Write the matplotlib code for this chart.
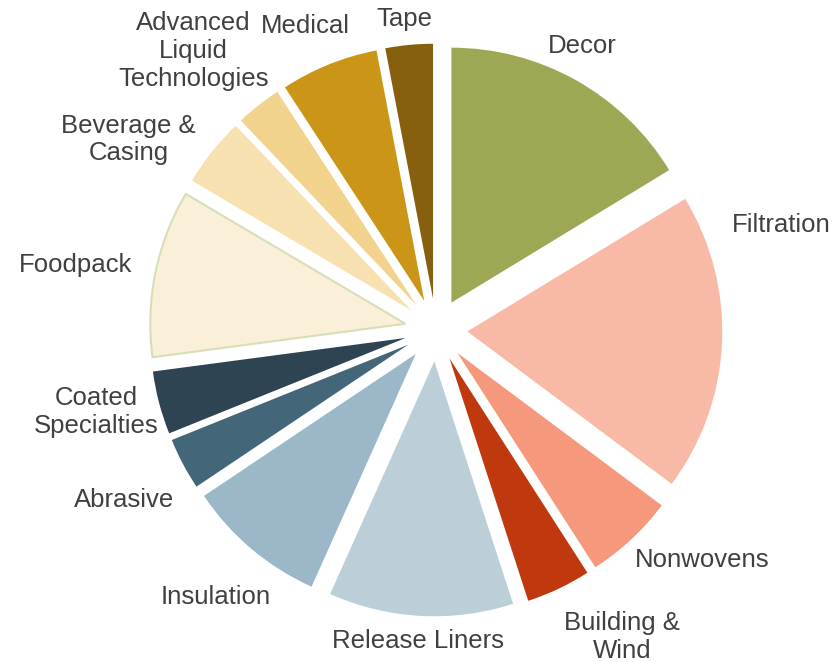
import numpy as np
import matplotlib.pyplot as plt

# ===============================
# Segment shares (clockwise from 12 o'clock)
# ===============================
segments = ["Decor", "Filtration", "Nonwovens", "Building &\nWind", "Release Liners",
            "Insulation", "Abrasive", "Coated\nSpecialties", "Foodpack",
            "Beverage &\nCasing", "Advanced\nLiquid\nTechnologies", "Medical", "Tape"]
shares = [16.3, 18.9, 5.7, 4.1, 11.7, 8.9, 3.3, 4.0, 10.6, 4.4, 2.9, 6.2, 3.0]

colors = ["#9EA854", "#F8B9A6", "#F6987C", "#C0380E", "#BCCFD8", "#9BB7C8", "#436779",
          "#2E4452", "#FAEFD8", "#F7E1B0", "#F2D38E", "#CB9518", "#86600F"]

# label centres (pie radius = 1, centre at origin)
label_xy = [(0.573, 1.114), (1.355, 0.412), (1.043, -0.902), (0.729, -1.204),
            (-0.071, -1.220), (-0.865, -1.047), (-1.222, -0.667), (-1.331, -0.322),
            (-1.414, 0.255), (-1.206, 0.747), (-0.952, 1.094), (-0.512, 1.192),
            (-0.124, 1.220)]

plt.rcParams['font.family'] = ['Liberation Sans', 'DejaVu Sans']

fig = plt.figure(figsize=(8.34, 6.62), dpi=100)
ax = fig.add_axes([0, 0, 1, 1])

wedges, texts = ax.pie(shares, labels=segments, colors=colors, startangle=90,
                       counterclock=False, explode=[0.123] * len(shares),
                       wedgeprops=dict(linewidth=0),
                       textprops=dict(fontsize=18.5, color="#404040"))

# Foodpack has a thin olive outline in the original
wedges[8].set_edgecolor("#D8DEB8")
wedges[8].set_linewidth(1.5)

for t, (x, y) in zip(texts, label_xy):
    t.set_position((x, y))
    t.set_ha("center")
    t.set_va("center")
    t.set_multialignment("center")
    t.set_linespacing(1.2)

ax.set_xlim(-1.710, 1.561)
ax.set_ylim(-1.302, 1.294)
ax.set_aspect("equal")
ax.axis("off")

fig.savefig("out.png", dpi=100)
